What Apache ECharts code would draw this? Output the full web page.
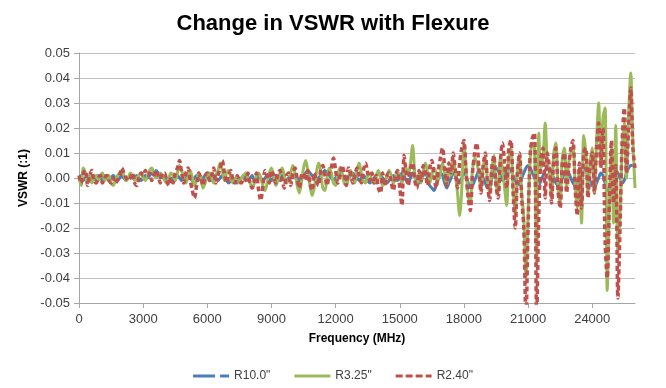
<!DOCTYPE html>
<html>
<head>
<meta charset="utf-8">
<script src="https://cdn.jsdelivr.net/npm/echarts@6/dist/echarts.min.js"></script>
<style>html,body{margin:0;padding:0;background:#fff;}#c{width:666px;height:388px;}</style>
</head>
<body>
<div id="c"></div>
<script>
// Frequency sweep: 0 to 26000 MHz in 100 MHz steps
const freqStartMHz = 0;
const freqStepMHz = 100;
const seriesNames = ['R10.0"', 'R3.25"', 'R2.40"'];
const xTicks = [0, 3000, 6000, 9000, 12000, 15000, 18000, 21000, 24000];
const yTicks = [-0.05, -0.04, -0.03, -0.02, -0.01, 0, 0.01, 0.02, 0.03, 0.04, 0.05];

const r10 = [
 0,0.001,-0.001,0,0.001,-0.001,0.001,0,-0.001,0.001,
 0,-0.001,0.001,0,-0.001,0,0.001,0,-0.001,0,
 0.001,0,-0.001,0,0.001,0,0,0.001,0,-0.001,
 0,0.001,0,0.001,0.002,0.001,0.003,0.002,0,0.001,
 0,-0.001,0,0,-0.001,0,0.001,0,-0.001,0,
 0,0.001,0,-0.001,0,0.001,0,-0.001,0,0.001,
 0.002,0,-0.001,0.001,0,-0.001,0,0.001,0,-0.001,
 -0.002,-0.001,0,-0.001,-0.002,-0.001,0,0.001,0,-0.001,
 0,0.001,-0.001,0,0.001,0,-0.001,0,0.001,0,
 -0.001,0,0.001,0,-0.001,0.001,0,-0.001,0,0.001,
 0,0.001,0,-0.001,0,0.001,0.002,0.003,0.002,0.001,
 0,-0.001,0,0.001,0.002,0.003,0.002,0.001,0,-0.001,
 0,0.001,0.002,0.001,0,-0.001,0,0.001,0.002,0.001,
 0,-0.001,0,0.001,0,-0.001,-0.002,-0.001,0,0.001,
 0.002,0.001,0,-0.001,-0.002,-0.001,0,0.001,0,-0.001,
 0,0.002,0.001,-0.001,-0.002,0,0.002,0.001,-0.001,-0.002,
 -0.001,0.001,0.002,0,-0.003,-0.004,-0.005,-0.003,0,0.002,
 0.001,-0.002,-0.004,-0.002,0,0.002,0.001,-0.001,-0.002,0,
 0.002,0.001,-0.002,-0.004,-0.003,-0.001,0.001,0.003,0.002,0,
 -0.002,-0.004,-0.003,0,0.002,0.004,0.003,0.001,-0.001,0.001,
 0.003,0.004,0.003,0.001,-0.001,-0.003,-0.002,0,0.002,0.004,
 0.005,0.004,0.002,0,-0.002,-0.003,-0.001,0.001,0.003,0.004,
 0.004,0.002,0,-0.002,-0.003,-0.002,0,0.002,0.003,0.002,
 0,-0.002,-0.003,-0.001,0.001,0.003,0.004,0.003,0.001,-0.001,
 -0.003,-0.004,-0.002,0,0.002,0.001,-0.002,-0.005,-0.004,-0.001,
 0.001,0.003,0.002,0,-0.002,-0.001,0.002,0.004,0.005,0.005,0.005
];

const r325 = [
 0,-0.003,0.004,0.002,-0.002,0.001,-0.002,0,0.001,-0.001,
 0.001,0.002,-0.001,0,0.001,-0.002,-0.003,-0.001,0.001,0.002,
 0.003,0.001,-0.001,0,0.002,0.001,-0.001,0,0.001,0.002,
 0,-0.001,0.001,0.003,0.004,0.002,0,0.001,0.002,0.001,
 -0.001,-0.002,0,0.002,0.001,-0.001,0.002,0.005,0.003,0,
 -0.002,0.001,0.003,0,-0.003,-0.001,0.002,0,-0.004,-0.002,
 0.001,0.002,0,-0.002,0.001,0.003,0.006,0.003,-0.001,0.002,
 0.003,0,-0.002,0,-0.001,-0.002,0,0.001,0.002,0,
 -0.002,-0.004,-0.002,0.001,0.002,0,-0.003,-0.005,-0.002,0.002,
 0.004,0.001,-0.003,-0.001,0.002,0.004,0.001,-0.002,-0.001,0.002,
 0.005,0.002,-0.003,-0.006,-0.002,0.004,0.007,0.003,-0.003,-0.007,
 -0.004,0.002,0.006,0.003,-0.004,-0.005,0,0.004,0.002,-0.002,
 -0.003,0.001,0.004,0.002,-0.002,-0.003,0,0.003,0.001,-0.002,
 0.003,0.006,0.002,-0.001,-0.002,0.001,0.002,-0.001,-0.002,0.001,
 0.003,0,-0.003,-0.002,0.001,0.003,0.001,-0.002,0,0.002,
 0.001,-0.002,0.002,0.004,0.001,0.006,0.013,0.002,-0.003,0.002,
 -0.002,0.003,0.006,0.002,-0.002,0.001,0.004,0.002,-0.001,0.002,
 0.006,0.002,-0.003,0.004,0.001,0.008,0.002,-0.006,-0.015,-0.004,
 0.014,0.004,-0.007,-0.010,0.003,0.008,0.006,0.002,-0.005,0.004,
 0.008,-0.001,-0.006,0.003,0.009,-0.002,-0.006,0.008,0.004,-0.004,
 -0.011,0.008,0.012,-0.004,-0.015,0.003,0.009,-0.006,-0.016,-0.040,
 -0.015,0.008,0.014,0.012,-0.035,0.018,0.004,0.008,0.022,0.006,
 0.002,-0.008,0.010,0.014,-0.004,-0.010,0.008,0.012,-0.004,0.006,
 0.010,0.013,-0.002,-0.012,0.004,-0.018,0.017,0.010,-0.006,0.006,
 0.012,-0.006,0.014,0.030,0.006,0.024,0.028,-0.045,-0.012,0.012,
 -0.018,0.021,-0.030,-0.015,0.012,0.022,0,0.025,0.042,0.015,-0.004
];

const r240 = [
 0.001,-0.002,0.002,0.003,-0.003,0.001,0.003,-0.001,-0.002,0,
 0.001,-0.002,0,0.001,-0.001,-0.002,0,-0.002,-0.001,0.001,
 0.004,0.002,0,-0.001,0,0.002,-0.002,-0.003,0,0.002,
 0.001,0.003,0.001,0.002,-0.001,0.001,0.003,0.001,-0.002,0.002,
 0.002,-0.001,-0.003,0,-0.002,0.002,0.004,0.007,0.002,-0.002,
 0.002,0.004,-0.001,-0.005,-0.008,-0.003,0.002,0,-0.003,0.001,
 0.002,-0.001,0.001,0.004,-0.002,0.001,0.004,0.007,0.002,-0.002,
 0.001,0.003,-0.001,-0.002,0.001,-0.001,-0.002,0,-0.001,0.002,
 -0.002,-0.004,-0.001,0.002,-0.005,-0.009,-0.003,0.003,0.001,-0.002,
 0.003,0.001,-0.002,0.002,0.003,-0.001,-0.004,0.001,0.002,-0.003,
 0.002,0.004,0,-0.004,0.001,0.002,-0.001,0.003,-0.002,-0.005,
 0.002,-0.001,-0.003,0.003,0.005,0.001,-0.003,0.002,0.004,0.008,
 0.003,-0.002,0.001,0.005,0.002,-0.003,0.004,0.002,-0.002,0.001,
 0.004,0.001,-0.002,0.003,0.006,0.002,-0.001,0.002,-0.002,0.001,
 -0.004,-0.006,0.002,-0.003,0.001,0.002,-0.002,-0.005,0.001,0.003,
 -0.004,-0.011,0.009,0.002,-0.003,0.004,0.006,-0.001,-0.004,0.003,
 -0.001,0.005,0.002,-0.003,0.004,0.007,0.001,-0.004,0.003,0.008,
 0.012,0.004,-0.003,0.006,0.002,0.010,0.003,-0.004,0.006,0.012,
 0.015,0.002,-0.008,-0.013,0.002,0.010,0.014,0.004,-0.006,0.005,
 0.010,-0.002,-0.009,0.004,0.009,-0.003,-0.008,0.006,0.014,0.006,
 -0.004,0.012,0.015,-0.006,-0.020,0.002,0.010,-0.008,-0.020,-0.056,
 -0.020,0.010,0.016,0.018,-0.056,-0.015,0.008,0.012,-0.008,0.010,
 0.004,-0.010,0.008,0.012,-0.005,-0.012,0.006,0.010,-0.006,0.004,
 0.012,0.015,-0.004,-0.015,0.006,-0.012,0.010,0.012,-0.008,0.004,
 0.010,-0.006,0.012,0.022,0.004,0.020,-0.025,-0.040,-0.010,0.015,
 -0.010,0.005,-0.048,-0.020,0.015,0.028,0.002,0.020,0.036,0.012,0.004
];

const pairs = arr => arr.map((v, i) => [freqStartMHz + i * freqStepMHz, v]);

const legendIcons = [
  'path://M0,0H22V3H0Z M27,0H36V3H27Z',
  'path://M0,0H36V3H0Z',
  'path://M0,0H7V3H0Z M10,0H17V3H10Z M20,0H27V3H20Z M30,0H36V3H30Z'
];

const chart = echarts.init(document.getElementById('c'), null, {renderer: 'canvas'});
const txt = '#404040';
chart.setOption({
  animation: false,
  backgroundColor: '#ffffff',
  title: {
    text: 'Change in VSWR with Flexure',
    left: 'center', top: 8,
    textStyle: {fontFamily: 'Liberation Sans', fontWeight: 'bold', fontSize: 22, color: '#000'}
  },
  legend: {
    bottom: 1, left: 'center',
    itemWidth: 36, itemHeight: 3, itemGap: 24,
    textStyle: {fontFamily: 'Liberation Sans', fontSize: 12, color: txt},
    data: seriesNames.map((n, i) => ({name: n, icon: legendIcons[i]}))
  },
  grid: {left: 79, right: 31, top: 53, bottom: 85},
  xAxis: {
    type: 'value', min: 0, max: 26000, interval: 3000,
    name: 'Frequency (MHz)', nameLocation: 'middle', nameGap: 30,
    nameTextStyle: {fontFamily: 'Liberation Sans', fontWeight: 'bold', fontSize: 12, color: '#000'},
    axisLine: {onZero: false, lineStyle: {color: '#a6a6a6', width: 1}},
    axisTick: {show: true, length: 5, lineStyle: {color: '#a6a6a6'}},
    axisLabel: {showMaxLabel: false, margin: 10, fontFamily: 'Liberation Sans', fontSize: 13, color: txt,
      formatter: v => xTicks.includes(v) ? String(v) : ''},
    splitLine: {show: false}
  },
  yAxis: {
    type: 'value', min: -0.05, max: 0.05, interval: 0.01,
    name: 'VSWR (:1)', nameLocation: 'middle', nameGap: 44, nameRotate: 90,
    nameTextStyle: {fontFamily: 'Liberation Sans', fontWeight: 'bold', fontSize: 12, color: '#000'},
    axisLine: {show: true, lineStyle: {color: '#a6a6a6', width: 1}},
    axisTick: {show: true, length: 5, lineStyle: {color: '#a6a6a6'}},
    axisLabel: {margin: 9, fontFamily: 'Liberation Sans', fontSize: 13, color: txt,
      formatter: v => { const t = yTicks.find(y => Math.abs(y - v) < 1e-9); return t === undefined ? '' : t.toFixed(2); }},
    splitLine: {show: true, lineStyle: {color: '#bfbfbf', width: 1}}
  },
  series: [
    {name: seriesNames[0], type: 'line', data: pairs(r10), showSymbol: false, symbol: 'none', smooth: 0.3,
     lineStyle: {color: '#4a7ebb', width: 3}, itemStyle: {color: '#4a7ebb'}, z: 2},
    {name: seriesNames[1], type: 'line', data: pairs(r325), showSymbol: false, symbol: 'none', smooth: 0.3,
     lineStyle: {color: '#9bbb59', width: 3}, itemStyle: {color: '#9bbb59'}, z: 3},
    {name: seriesNames[2], type: 'line', data: pairs(r240), showSymbol: false, symbol: 'none', smooth: 0.3,
     lineStyle: {color: '#c0504d', width: 3.5, type: [5, 3]}, itemStyle: {color: '#c0504d'}, z: 4}
  ]
});
</script>
</body>
</html>
